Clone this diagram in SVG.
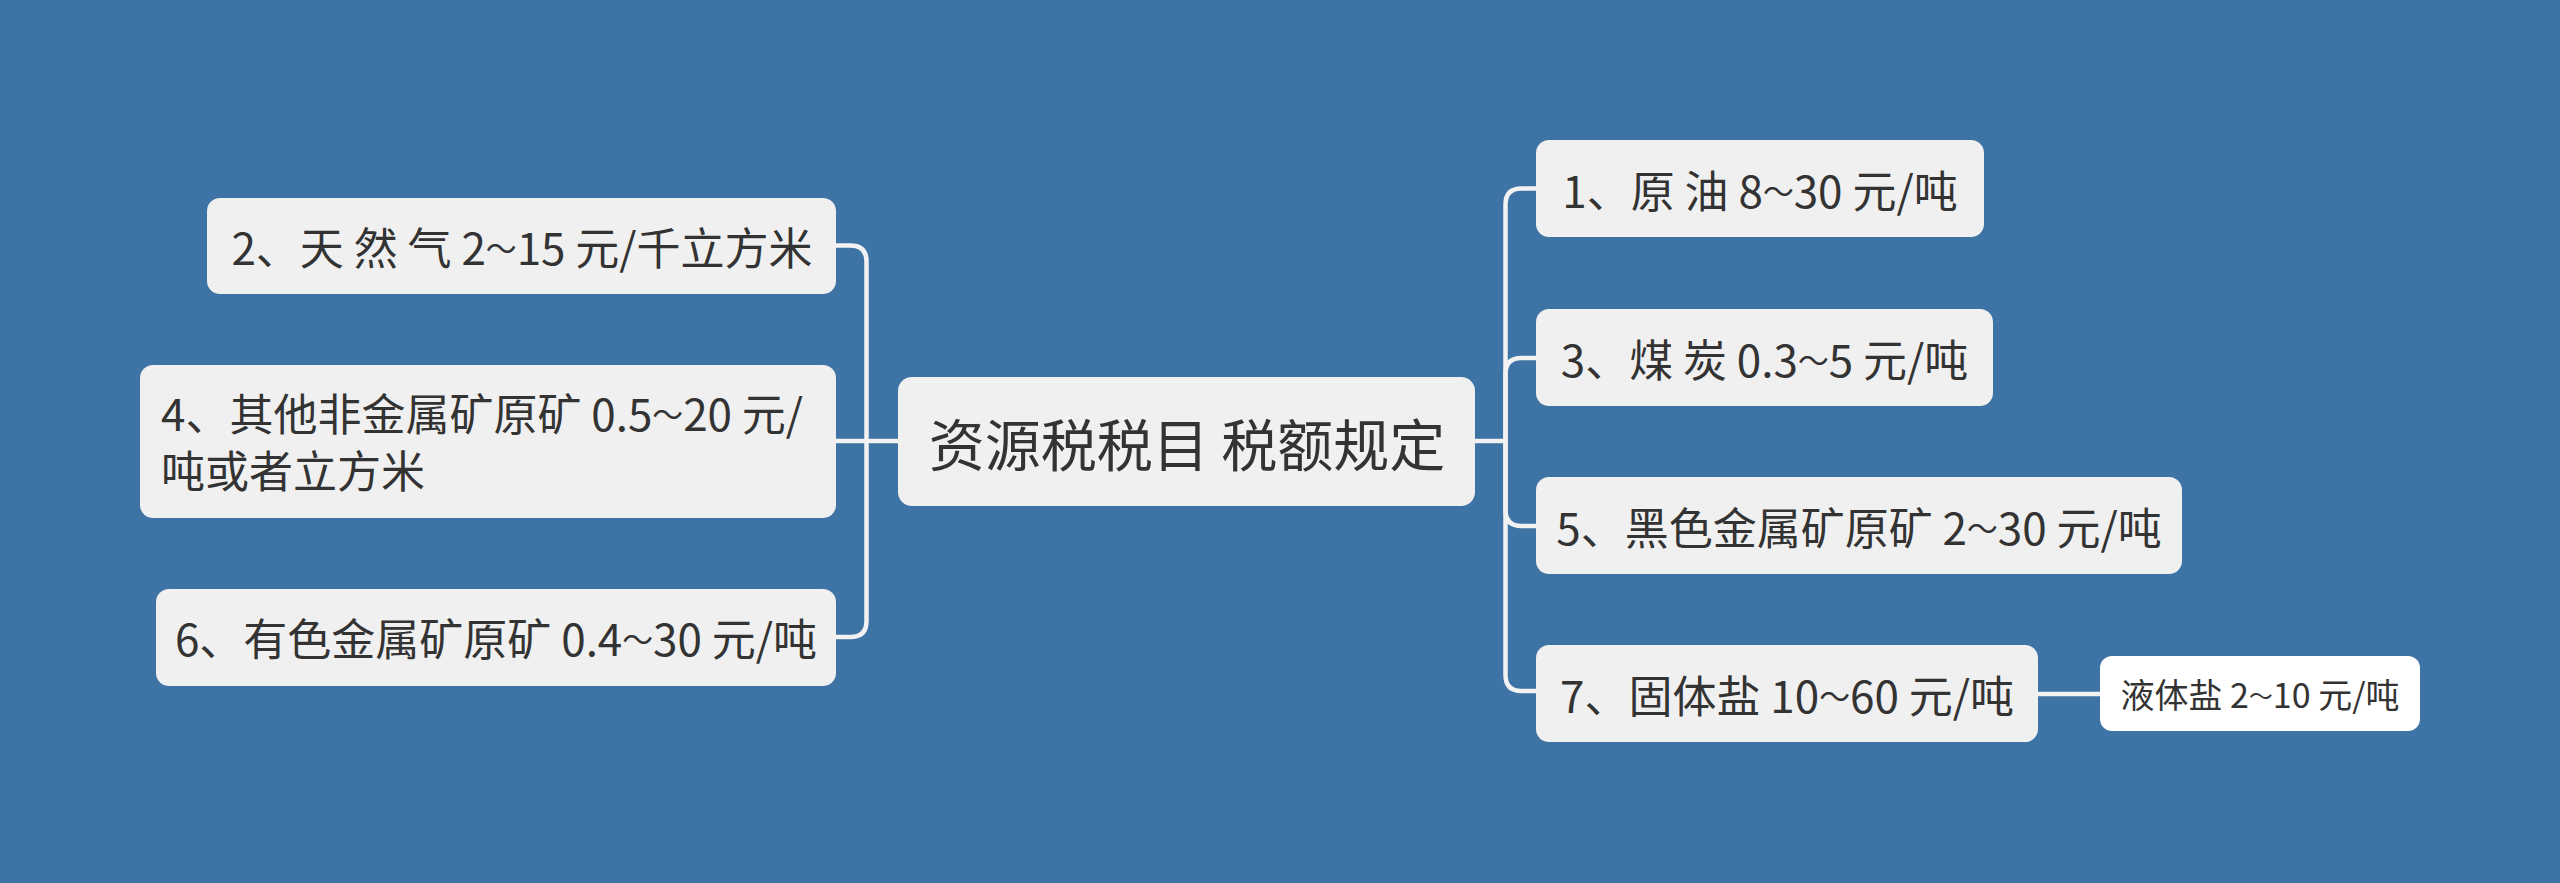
<svg xmlns="http://www.w3.org/2000/svg" width="2560" height="883" viewBox="0 0 2560 883">
<style>
.bg{fill:#3d73a5}
.box{fill:#f0f0f0}
.sub{fill:#ffffff}
.t{font-family:"Noto Sans CJK SC","Noto Sans",sans-serif;fill:#333333;dominant-baseline:central}
.m{font-size:44px;text-anchor:middle}
.c{font-size:56px;text-anchor:middle}
.s{font-size:34px;text-anchor:middle}
.l{font-size:44px}
.w{font-size:70%}
.con{fill:none;stroke:#f2f2f2;stroke-width:4.5}
</style>
<rect class="bg" x="0" y="0" width="2560" height="883"/>
<g id="connectors">
<path class="con" d="M898,441 H836"/>
<path class="con" d="M866.5,441 V261.5 Q866.5,245.5 850.5,245.5 H836"/>
<path class="con" d="M866.5,441 V621 Q866.5,637 850.5,637 H836"/>
<path class="con" d="M1475,441 H1505.5"/>
<path class="con" d="M1505.5,441 V204.5 Q1505.5,188.5 1521.5,188.5 H1536"/>
<path class="con" d="M1505.5,441 V374 Q1505.5,358 1521.5,358 H1536"/>
<path class="con" d="M1505.5,441 V510 Q1505.5,526 1521.5,526 H1536"/>
<path class="con" d="M1505.5,441 V675 Q1505.5,691 1521.5,691 H1536"/>
<path class="con" d="M2038,694 H2100"/>
</g>
<g id="center">
<rect class="box" x="898" y="377" width="577" height="129" rx="14"/>
<text class="t c" x="1187" y="441">资源税税目 税额规定</text>
</g>
<g id="n2">
<rect class="box" x="207" y="198" width="629" height="96" rx="13"/>
<text class="t m" x="522" y="246">2、天 然 气 2<tspan class="w">～</tspan>15 元/千立方米</text>
</g>
<g id="n4">
<rect class="box" x="140" y="365" width="696" height="153" rx="13"/>
<text class="t l" x="161" y="412">4、其他非金属矿原矿 0.5<tspan class="w">～</tspan>20 元/<tspan x="161" dy="57">吨或者立方米</tspan></text>
</g>
<g id="n6">
<rect class="box" x="156" y="589" width="680" height="97" rx="13"/>
<text class="t m" x="496" y="637">6、有色金属矿原矿 0.4<tspan class="w">～</tspan>30 元/吨</text>
</g>
<g id="n1">
<rect class="box" x="1536" y="140" width="448" height="97" rx="13"/>
<text class="t m" x="1760" y="188.5">1、原 油 8<tspan class="w">～</tspan>30 元/吨</text>
</g>
<g id="n3">
<rect class="box" x="1536" y="309" width="457" height="97" rx="13"/>
<text class="t m" x="1764.5" y="357.5">3、煤 炭 0.3<tspan class="w">～</tspan>5 元/吨</text>
</g>
<g id="n5">
<rect class="box" x="1536" y="477" width="646" height="97" rx="13"/>
<text class="t m" x="1859" y="525.5">5、黑色金属矿原矿 2<tspan class="w">～</tspan>30 元/吨</text>
</g>
<g id="n7">
<rect class="box" x="1536" y="645" width="502" height="97" rx="13"/>
<text class="t m" x="1787" y="693.5">7、固体盐 10<tspan class="w">～</tspan>60 元/吨</text>
</g>
<g id="n7a">
<rect class="sub" x="2100" y="656" width="320" height="75" rx="12"/>
<text class="t s" x="2260" y="693.5">液体盐 2<tspan class="w">～</tspan>10 元/吨</text>
</g>
</svg>
